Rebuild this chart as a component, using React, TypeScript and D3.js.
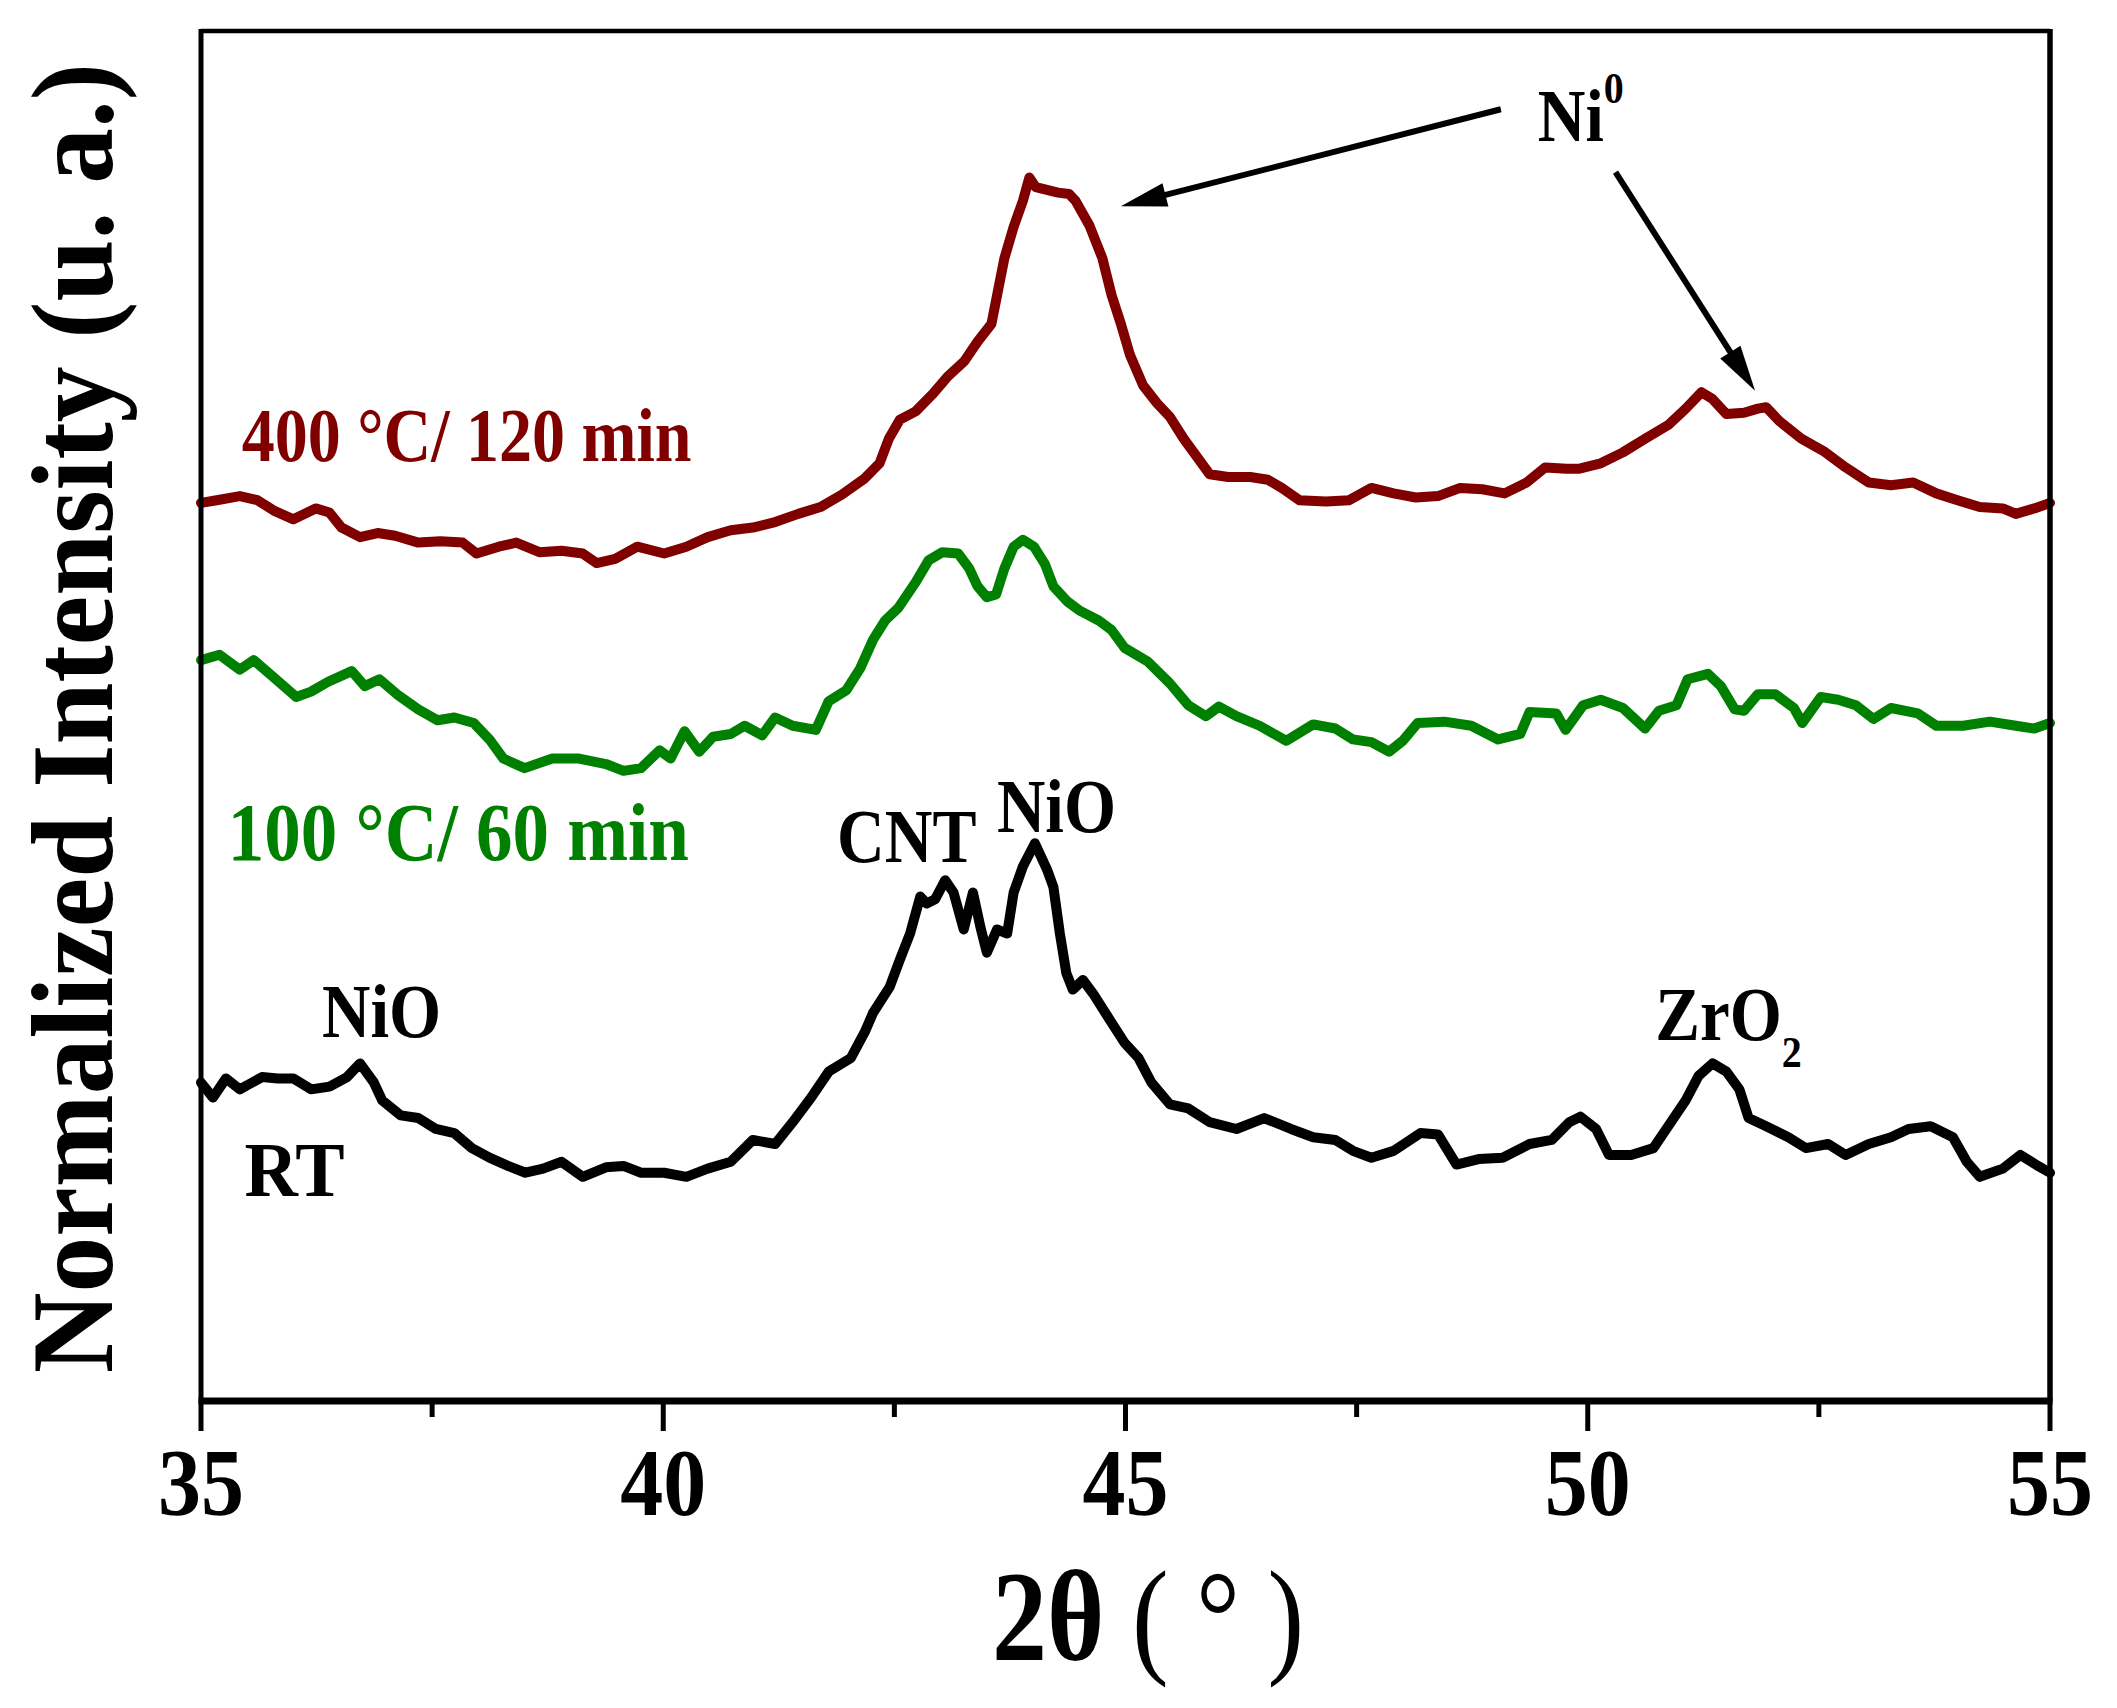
import React from "react";
import * as d3 from "d3";

// 2θ (deg) / normalized intensity
const rtTheta = [
  35.0, 35.13, 35.27, 35.42, 35.66, 35.83, 36.0, 36.19, 36.39, 36.58, 36.72, 36.87, 36.96, 37.16, 37.35,
  37.54, 37.74, 37.93, 38.12, 38.32, 38.51, 38.7, 38.9, 39.13, 39.38, 39.57, 39.76, 40.01, 40.25, 40.48,
  40.73, 40.97, 41.21, 41.4, 41.6, 41.79, 42.03, 42.18, 42.27, 42.45, 42.56, 42.67, 42.78, 42.85, 42.94,
  43.05, 43.14, 43.25, 43.35, 43.43, 43.5, 43.61, 43.72, 43.79, 43.89, 44.02, 44.15, 44.22, 44.29, 44.36,
  44.43, 44.54, 44.65, 44.8, 44.99, 45.14, 45.28, 45.48, 45.68, 45.91, 46.2, 46.5, 46.79, 47.03, 47.27,
  47.46, 47.66, 47.9, 48.19, 48.38, 48.58, 48.82, 49.08, 49.37, 49.61, 49.8, 49.92, 50.09, 50.23, 50.47,
  50.71, 50.87, 51.06, 51.2, 51.35, 51.5, 51.64, 51.74, 51.93, 52.17, 52.36, 52.6, 52.79, 53.04, 53.28,
  53.47, 53.71, 53.95, 54.1, 54.24, 54.49, 54.68, 54.87, 55.0,
];
const rtIntensity = [
  23.0, 21.9, 23.3, 22.5, 23.4, 23.3, 23.3, 22.5, 22.7, 23.4, 24.4, 23.0, 21.7, 20.6, 20.4,
  19.6, 19.3, 18.2, 17.5, 16.9, 16.4, 16.7, 17.2, 16.1, 16.8, 16.9, 16.4, 16.4, 16.1, 16.7,
  17.2, 18.8, 18.5, 20.1, 21.9, 23.8, 24.8, 26.7, 28.1, 30.0, 32.0, 33.9, 36.6, 36.1, 36.4,
  37.8, 36.9, 34.2, 36.9, 34.4, 32.5, 34.2, 33.9, 36.9, 38.8, 40.5, 38.6, 37.3, 33.9, 31.0,
  29.8, 30.5, 29.5, 27.9, 25.9, 24.8, 23.0, 21.4, 21.1, 20.1, 19.6, 20.4, 19.6, 19.0, 18.8,
  18.0, 17.5, 18.0, 19.3, 19.2, 17.0, 17.4, 17.5, 18.5, 18.8, 20.1, 20.5, 19.6, 17.7, 17.7,
  18.2, 19.8, 21.7, 23.5, 24.4, 23.8, 22.5, 20.4, 19.8, 19.0, 18.2, 18.5, 17.7, 18.5, 19.0,
  19.6, 19.8, 19.0, 17.2, 16.1, 16.7, 17.7, 16.9, 16.4,
];

const t100Theta = [
  35.0, 35.2, 35.42, 35.57, 35.81, 36.03, 36.19, 36.37, 36.63, 36.77, 36.93, 37.12, 37.35, 37.56, 37.74,
  37.95, 38.12, 38.27, 38.5, 38.8, 39.09, 39.38, 39.57, 39.76, 39.96, 40.08, 40.23, 40.39, 40.54, 40.73,
  40.88, 41.07, 41.21, 41.4, 41.65, 41.79, 41.98, 42.13, 42.27, 42.4, 42.54, 42.73, 42.87, 43.02, 43.19,
  43.31, 43.4, 43.5, 43.6, 43.69, 43.79, 43.89, 44.01, 44.13, 44.22, 44.37, 44.51, 44.71, 44.85, 44.99,
  45.24, 45.48, 45.68, 45.87, 46.01, 46.2, 46.45, 46.74, 47.03, 47.27, 47.46, 47.66, 47.85, 48.0, 48.16,
  48.45, 48.74, 49.03, 49.27, 49.37, 49.66, 49.76, 49.95, 50.14, 50.38, 50.62, 50.77, 50.96, 51.08, 51.3,
  51.44, 51.59, 51.69, 51.84, 52.03, 52.23, 52.32, 52.52, 52.71, 52.9, 53.09, 53.28, 53.57, 53.77, 54.06,
  54.35, 54.63, 54.83, 55.0,
];
const t100Intensity = [
  53.9, 54.3, 53.2, 53.9, 52.5, 51.2, 51.6, 52.3, 53.1, 52.0, 52.5, 51.4, 50.3, 49.5, 49.7,
  49.3, 48.1, 46.7, 46.0, 46.7, 46.7, 46.3, 45.8, 46.0, 47.3, 46.7, 48.7, 47.2, 48.3, 48.5,
  49.1, 48.4, 49.7, 49.1, 48.8, 50.9, 51.7, 53.3, 55.4, 56.8, 57.7, 59.6, 61.2, 61.8, 61.7,
  60.6, 59.3, 58.5, 58.7, 60.6, 62.2, 62.7, 62.2, 60.9, 59.3, 58.2, 57.5, 56.8, 56.1, 54.8,
  53.8, 52.2, 50.6, 49.8, 50.5, 49.8, 49.1, 48.0, 49.2, 48.9, 48.1, 47.9, 47.2, 48.0, 49.3,
  49.4, 49.1, 48.1, 48.5, 50.1, 50.0, 48.8, 50.6, 51.0, 50.4, 48.9, 50.2, 50.6, 52.5, 52.9,
  52.0, 50.3, 50.2, 51.4, 51.4, 50.4, 49.3, 51.2, 51.0, 50.6, 49.6, 50.4, 50.0, 49.1, 49.1,
  49.4, 49.1, 48.9, 49.3,
];

const t400Theta = [
  35.0, 35.17, 35.42, 35.61, 35.8, 36.0, 36.24, 36.39, 36.52, 36.72, 36.91, 37.1, 37.35, 37.59, 37.83,
  37.98, 38.22, 38.41, 38.66, 38.9, 39.13, 39.28, 39.48, 39.72, 40.01, 40.25, 40.48, 40.73, 40.97, 41.21,
  41.46, 41.7, 41.93, 42.18, 42.34, 42.44, 42.56, 42.73, 42.92, 43.07, 43.26, 43.4, 43.55, 43.62, 43.69,
  43.79, 43.89, 43.96, 44.03, 44.15, 44.27, 44.39, 44.46, 44.61, 44.75, 44.85, 44.95, 45.05, 45.19, 45.34,
  45.48, 45.63, 45.77, 45.91, 46.11, 46.35, 46.54, 46.69, 46.88, 47.17, 47.42, 47.66, 47.9, 48.14, 48.38,
  48.62, 48.86, 49.1, 49.34, 49.54, 49.77, 49.9, 50.14, 50.38, 50.62, 50.87, 51.06, 51.23, 51.35, 51.5,
  51.69, 51.84, 51.93, 52.07, 52.31, 52.55, 52.79, 53.04, 53.28, 53.52, 53.77, 54.0, 54.24, 54.49, 54.63,
  54.83, 55.0,
];
const t400Intensity = [
  65.4, 65.6, 65.9, 65.6, 64.8, 64.2, 65.0, 64.7, 63.6, 62.9, 63.2, 63.0, 62.5, 62.6, 62.5,
  61.7, 62.2, 62.5, 61.8, 61.9, 61.7, 61.0, 61.3, 62.2, 61.7, 62.2, 62.9, 63.4, 63.6, 64.0,
  64.6, 65.1, 66.0, 67.2, 68.3, 70.1, 71.5, 72.1, 73.4, 74.6, 75.8, 77.2, 78.5, 80.9, 83.3,
  85.6, 87.5, 89.2, 88.5, 88.3, 88.1, 88.0, 87.5, 85.7, 83.3, 80.6, 78.5, 76.2, 74.0, 72.7,
  71.7, 70.1, 68.8, 67.5, 67.3, 67.3, 67.1, 66.5, 65.6, 65.5, 65.6, 66.5, 66.1, 65.8, 65.9,
  66.5, 66.4, 66.1, 66.9, 68.0, 67.9, 67.9, 68.3, 69.1, 70.1, 71.1, 72.3, 73.5, 73.0, 71.9,
  72.0, 72.3, 72.4, 71.4, 70.1, 69.2, 68.0, 66.9, 66.7, 66.9, 66.1, 65.6, 65.1, 65.0, 64.6,
  65.0, 65.4,
];

const series = [
  { name: "RT", theta: rtTheta, intensity: rtIntensity, color: "#000000" },
  { name: "100 °C/ 60 min", theta: t100Theta, intensity: t100Intensity, color: "#008000" },
  { name: "400 °C/ 120 min", theta: t400Theta, intensity: t400Intensity, color: "#800000" },
];

// curve labels and phase labels, placed in data units (2θ, intensity)
const labels = [
  { text: "400 °C/ 120 min", x: 35.44, y: 68.5, size: 66, sy: 1.16, color: "#800000" },
  { text: "100 °C/ 60 min", x: 35.29, y: 39.3, size: 73, sy: 1.13, color: "#008000" },
  { text: "RT", x: 35.47, y: 14.7, size: 74, sy: 1.07, color: "#000000" },
  { text: "NiO", x: 36.31, y: 26.3, size: 67, sy: 1.13, color: "#000000" },
  { text: "CNT", x: 41.88, y: 39.1, size: 66, sy: 1.14, color: "#000000" },
  { text: "NiO", x: 43.61, y: 41.3, size: 67, sy: 1.13, color: "#000000" },
];

const niArrows = [
  { from: [49.06, 94.2], to: [44.95, 87.1] },
  { from: [50.3, 89.6], to: [51.81, 73.6] },
];

const xTickValues = [35, 40, 45, 50, 55];
const xMinorValues = [37.5, 42.5, 47.5, 52.5];

const W = 2117;
const H = 1708;
const FONT = "'Liberation Serif', 'Times New Roman', Times, serif";

const App: React.FC = () => {
  const x = d3.scaleLinear().domain([35, 55]).range([201, 2050]);
  const y = d3.scaleLinear().domain([-0.3, 100]).range([1401, 30]);
  const top = 31;
  const bottom = y(-0.3);

  const line = (theta: number[], vals: number[]) =>
    d3
      .line<number>()
      .x((_, i) => x(theta[i]))
      .y((d) => y(d))
      .curve(d3.curveLinear)(vals) ?? "";

  const arrow = (a: { from: number[]; to: number[] }, i: number) => {
    const x1 = x(a.from[0]);
    const y1 = y(a.from[1]);
    const x2 = x(a.to[0]);
    const y2 = y(a.to[1]);
    const len = Math.hypot(x2 - x1, y2 - y1);
    const ux = (x2 - x1) / len;
    const uy = (y2 - y1) / len;
    const headLen = 46;
    const half = 12;
    const bx = x2 - ux * headLen;
    const by = y2 - uy * headLen;
    const pts = [
      [x2, y2],
      [bx - uy * half, by + ux * half],
      [bx + uy * half, by - ux * half],
    ];
    return (
      <g key={`arrow-${i}`}>
        <line
          x1={x1}
          y1={y1}
          x2={bx + ux * 6}
          y2={by + uy * 6}
          stroke="#000"
          strokeWidth={6}
        />
        <polygon points={pts.map((p) => p.join(",")).join(" ")} fill="#000" />
      </g>
    );
  };

  return (
    <div style={{ position: "absolute", left: 0, top: 0 }}>
      <svg width={W} height={H} style={{ display: "block", background: "#fff" }} fontFamily={FONT}>
        {/* data */}
        {series.map((s) => (
          <path
            key={s.name}
            d={line(s.theta, s.intensity)}
            fill="none"
            stroke={s.color}
            strokeWidth={10}
            strokeLinejoin="round"
            strokeLinecap="round"
          />
        ))}

        {/* frame */}
        <line x1={x(35)} y1={top} x2={x(55)} y2={top} stroke="#000" strokeWidth={4.5} />
        <line x1={x(35)} y1={top - 2} x2={x(35)} y2={bottom} stroke="#000" strokeWidth={5} />
        <line x1={x(55)} y1={top - 2} x2={x(55)} y2={bottom} stroke="#000" strokeWidth={5.5} />
        <line x1={x(35) - 2.5} y1={bottom} x2={x(55) + 2.5} y2={bottom} stroke="#000" strokeWidth={7} />

        {/* x ticks */}
        {xTickValues.map((t) => (
          <line key={`mj-${t}`} x1={x(t)} x2={x(t)} y1={bottom} y2={bottom + 30} stroke="#000" strokeWidth={5} />
        ))}
        {xMinorValues.map((t) => (
          <line key={`mn-${t}`} x1={x(t)} x2={x(t)} y1={bottom} y2={bottom + 16} stroke="#000" strokeWidth={5} />
        ))}
        {xTickValues.map((t) => (
          <text
            key={`tl-${t}`}
            transform={`translate(${x(t)},1515) scale(1,1.12)`}
            textAnchor="middle"
            fontSize={86}
            fontWeight="bold"
          >
            {t}
          </text>
        ))}

        {/* axis titles */}
        <text transform="translate(992,1660) scale(1,1.17)" fontSize={110}>
          <tspan fontWeight="bold">2θ</tspan>
          <tspan> ( ° )</tspan>
        </text>
        <text
          transform="translate(112,718) rotate(-90)"
          textAnchor="middle"
          fontSize={116}
          fontWeight="bold"
          textLength={1310}
          lengthAdjust="spacingAndGlyphs"
        >
          Normalized Intensity (u. a.)
        </text>

        {/* labels */}
        {labels.map((l, i) => (
          <text
            key={`lb-${i}`}
            transform={`translate(${x(l.x)},${y(l.y)}) scale(1,${l.sy})`}
            fontSize={l.size}
            fontWeight="bold"
            fill={l.color}
          >
            {l.text}
          </text>
        ))}
        <text transform={`translate(${x(50.73)},${y(26.1)}) scale(1,1.13)`} fontSize={67} fontWeight="bold">
          ZrO
          <tspan fontSize={40} dy={24}>
            2
          </tspan>
        </text>
        <text transform={`translate(${x(49.46)},${y(91.9)}) scale(1,1.13)`} fontSize={66} fontWeight="bold">
          Ni
          <tspan fontSize={40} dy={-33}>
            0
          </tspan>
        </text>

        {niArrows.map(arrow)}
      </svg>
    </div>
  );
};

export default App;
